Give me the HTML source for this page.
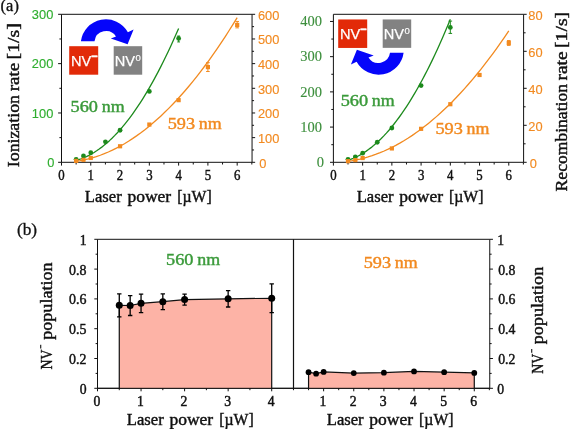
<!DOCTYPE html>
<html lang="en"><head><meta charset="utf-8"><title>Figure</title>
<style>html,body{margin:0;padding:0;background:#fff}svg{display:block;will-change:transform}text{white-space:pre}</style></head>
<body>
<svg width="571" height="429" viewBox="0 0 571 429">
<rect width="571" height="429" fill="#fff"/>
<path d="M61.50 14.30H252.05V162.30H61.50Z" fill="none" stroke="#111" stroke-width="1"/>
<line x1="61.50" y1="162.30" x2="61.50" y2="165.60" stroke="#111" stroke-width="1"/>
<line x1="76.14" y1="162.30" x2="76.14" y2="164.50" stroke="#111" stroke-width="1"/>
<line x1="90.78" y1="162.30" x2="90.78" y2="165.60" stroke="#111" stroke-width="1"/>
<line x1="105.42" y1="162.30" x2="105.42" y2="164.50" stroke="#111" stroke-width="1"/>
<line x1="120.06" y1="162.30" x2="120.06" y2="165.60" stroke="#111" stroke-width="1"/>
<line x1="134.70" y1="162.30" x2="134.70" y2="164.50" stroke="#111" stroke-width="1"/>
<line x1="149.34" y1="162.30" x2="149.34" y2="165.60" stroke="#111" stroke-width="1"/>
<line x1="163.98" y1="162.30" x2="163.98" y2="164.50" stroke="#111" stroke-width="1"/>
<line x1="178.62" y1="162.30" x2="178.62" y2="165.60" stroke="#111" stroke-width="1"/>
<line x1="193.26" y1="162.30" x2="193.26" y2="164.50" stroke="#111" stroke-width="1"/>
<line x1="207.90" y1="162.30" x2="207.90" y2="165.60" stroke="#111" stroke-width="1"/>
<line x1="222.54" y1="162.30" x2="222.54" y2="164.50" stroke="#111" stroke-width="1"/>
<line x1="237.18" y1="162.30" x2="237.18" y2="165.60" stroke="#111" stroke-width="1"/>
<line x1="251.82" y1="162.30" x2="251.82" y2="164.50" stroke="#111" stroke-width="1"/>
<text x="61.50" y="179.90" font-family='"Liberation Serif", serif' font-size="13.9" fill="#111" text-anchor="middle" textLength="6.40" lengthAdjust="spacingAndGlyphs" stroke="#111" stroke-width="0.42">0</text>
<text x="90.78" y="179.90" font-family='"Liberation Serif", serif' font-size="13.9" fill="#111" text-anchor="middle" textLength="6.40" lengthAdjust="spacingAndGlyphs" stroke="#111" stroke-width="0.42">1</text>
<text x="120.06" y="179.90" font-family='"Liberation Serif", serif' font-size="13.9" fill="#111" text-anchor="middle" textLength="6.40" lengthAdjust="spacingAndGlyphs" stroke="#111" stroke-width="0.42">2</text>
<text x="149.34" y="179.90" font-family='"Liberation Serif", serif' font-size="13.9" fill="#111" text-anchor="middle" textLength="6.40" lengthAdjust="spacingAndGlyphs" stroke="#111" stroke-width="0.42">3</text>
<text x="178.62" y="179.90" font-family='"Liberation Serif", serif' font-size="13.9" fill="#111" text-anchor="middle" textLength="6.40" lengthAdjust="spacingAndGlyphs" stroke="#111" stroke-width="0.42">4</text>
<text x="207.90" y="179.90" font-family='"Liberation Serif", serif' font-size="13.9" fill="#111" text-anchor="middle" textLength="6.40" lengthAdjust="spacingAndGlyphs" stroke="#111" stroke-width="0.42">5</text>
<text x="237.18" y="179.90" font-family='"Liberation Serif", serif' font-size="13.9" fill="#111" text-anchor="middle" textLength="6.40" lengthAdjust="spacingAndGlyphs" stroke="#111" stroke-width="0.42">6</text>
<line x1="58.10" y1="162.30" x2="61.50" y2="162.30" stroke="#111" stroke-width="1"/>
<text x="54.30" y="167.00" font-family='"Liberation Sans", sans-serif' font-size="13.3" fill="#2fae2f" text-anchor="end" textLength="7.15" lengthAdjust="spacingAndGlyphs" stroke="#2fae2f" stroke-width="0.12">0</text>
<line x1="58.10" y1="112.97" x2="61.50" y2="112.97" stroke="#111" stroke-width="1"/>
<text x="53.30" y="117.67" font-family='"Liberation Sans", sans-serif' font-size="13.3" fill="#2fae2f" text-anchor="end" textLength="21.45" lengthAdjust="spacingAndGlyphs" stroke="#2fae2f" stroke-width="0.12">100</text>
<line x1="58.10" y1="63.63" x2="61.50" y2="63.63" stroke="#111" stroke-width="1"/>
<text x="53.30" y="68.33" font-family='"Liberation Sans", sans-serif' font-size="13.3" fill="#2fae2f" text-anchor="end" textLength="21.45" lengthAdjust="spacingAndGlyphs" stroke="#2fae2f" stroke-width="0.12">200</text>
<line x1="58.10" y1="14.30" x2="61.50" y2="14.30" stroke="#111" stroke-width="1"/>
<text x="53.30" y="19.00" font-family='"Liberation Sans", sans-serif' font-size="13.3" fill="#2fae2f" text-anchor="end" textLength="21.45" lengthAdjust="spacingAndGlyphs" stroke="#2fae2f" stroke-width="0.12">300</text>
<line x1="59.40" y1="137.63" x2="61.50" y2="137.63" stroke="#111" stroke-width="1"/>
<line x1="59.40" y1="88.30" x2="61.50" y2="88.30" stroke="#111" stroke-width="1"/>
<line x1="59.40" y1="38.97" x2="61.50" y2="38.97" stroke="#111" stroke-width="1"/>
<line x1="252.05" y1="162.30" x2="255.15" y2="162.30" stroke="#111" stroke-width="1"/>
<text x="259.35" y="167.50" font-family='"Liberation Sans", sans-serif' font-size="13.3" fill="#f28a20" text-anchor="start" textLength="7.15" lengthAdjust="spacingAndGlyphs" stroke="#f28a20" stroke-width="0.12">0</text>
<line x1="252.05" y1="137.63" x2="255.15" y2="137.63" stroke="#111" stroke-width="1"/>
<text x="257.95" y="142.83" font-family='"Liberation Sans", sans-serif' font-size="13.3" fill="#f28a20" text-anchor="start" textLength="21.45" lengthAdjust="spacingAndGlyphs" stroke="#f28a20" stroke-width="0.12">100</text>
<line x1="252.05" y1="112.97" x2="255.15" y2="112.97" stroke="#111" stroke-width="1"/>
<text x="257.95" y="118.17" font-family='"Liberation Sans", sans-serif' font-size="13.3" fill="#f28a20" text-anchor="start" textLength="21.45" lengthAdjust="spacingAndGlyphs" stroke="#f28a20" stroke-width="0.12">200</text>
<line x1="252.05" y1="88.30" x2="255.15" y2="88.30" stroke="#111" stroke-width="1"/>
<text x="257.95" y="93.50" font-family='"Liberation Sans", sans-serif' font-size="13.3" fill="#f28a20" text-anchor="start" textLength="21.45" lengthAdjust="spacingAndGlyphs" stroke="#f28a20" stroke-width="0.12">300</text>
<line x1="252.05" y1="63.63" x2="255.15" y2="63.63" stroke="#111" stroke-width="1"/>
<text x="257.95" y="68.83" font-family='"Liberation Sans", sans-serif' font-size="13.3" fill="#f28a20" text-anchor="start" textLength="21.45" lengthAdjust="spacingAndGlyphs" stroke="#f28a20" stroke-width="0.12">400</text>
<line x1="252.05" y1="38.97" x2="255.15" y2="38.97" stroke="#111" stroke-width="1"/>
<text x="257.95" y="44.17" font-family='"Liberation Sans", sans-serif' font-size="13.3" fill="#f28a20" text-anchor="start" textLength="21.45" lengthAdjust="spacingAndGlyphs" stroke="#f28a20" stroke-width="0.12">500</text>
<line x1="252.05" y1="14.30" x2="255.15" y2="14.30" stroke="#111" stroke-width="1"/>
<text x="257.95" y="19.50" font-family='"Liberation Sans", sans-serif' font-size="13.3" fill="#f28a20" text-anchor="start" textLength="21.45" lengthAdjust="spacingAndGlyphs" stroke="#f28a20" stroke-width="0.12">600</text>
<line x1="252.05" y1="149.97" x2="254.05" y2="149.97" stroke="#111" stroke-width="1"/>
<line x1="252.05" y1="125.30" x2="254.05" y2="125.30" stroke="#111" stroke-width="1"/>
<line x1="252.05" y1="100.63" x2="254.05" y2="100.63" stroke="#111" stroke-width="1"/>
<line x1="252.05" y1="75.97" x2="254.05" y2="75.97" stroke="#111" stroke-width="1"/>
<line x1="252.05" y1="51.30" x2="254.05" y2="51.30" stroke="#111" stroke-width="1"/>
<line x1="252.05" y1="26.63" x2="254.05" y2="26.63" stroke="#111" stroke-width="1"/>
<path d="M76.14 160.37 L78.70 159.62 L81.26 158.75 L83.83 157.75 L86.39 156.62 L88.95 155.36 L91.51 153.97 L94.07 152.46 L96.64 150.81 L99.20 149.04 L101.76 147.14 L104.32 145.10 L106.88 142.94 L109.45 140.65 L112.01 138.22 L114.57 135.66 L117.13 132.97 L119.69 130.15 L122.26 127.20 L124.82 124.11 L127.38 120.89 L129.94 117.54 L132.50 114.06 L135.07 110.44 L137.63 106.69 L140.19 102.80 L142.75 98.79 L145.31 94.63 L147.88 90.35 L150.44 85.93 L153.00 81.37 L155.56 76.68 L158.12 71.86 L160.69 66.90 L163.25 61.80 L165.81 56.57 L168.37 51.21 L170.93 45.70 L173.50 40.07 L176.06 34.30 L178.62 28.39" fill="none" stroke="#1c8a1c" stroke-width="1.3" stroke-linejoin="round"/>
<path d="M76.14 161.29 L80.17 160.67 L84.19 159.89 L88.22 158.95 L92.24 157.87 L96.27 156.63 L100.30 155.24 L104.32 153.70 L108.35 152.01 L112.37 150.16 L116.40 148.16 L120.43 146.02 L124.45 143.71 L128.48 141.26 L132.50 138.66 L136.53 135.90 L140.56 132.99 L144.58 129.93 L148.61 126.71 L152.63 123.35 L156.66 119.83 L160.69 116.16 L164.71 112.34 L168.74 108.37 L172.76 104.24 L176.79 99.96 L180.82 95.53 L184.84 90.95 L188.87 86.22 L192.89 81.33 L196.92 76.30 L200.95 71.11 L204.97 65.76 L209.00 60.27 L213.02 54.62 L217.05 48.83 L221.08 42.88 L225.10 36.77 L229.13 30.52 L233.15 24.11 L237.18 17.56" fill="none" stroke="#f28a20" stroke-width="1.3" stroke-linejoin="round"/>
<circle cx="76.14" cy="159.34" r="2.4" fill="#1c8a1c"/>
<circle cx="83.46" cy="155.99" r="2.4" fill="#1c8a1c"/>
<circle cx="90.78" cy="152.73" r="2.4" fill="#1c8a1c"/>
<circle cx="105.42" cy="141.78" r="2.4" fill="#1c8a1c"/>
<circle cx="120.06" cy="130.23" r="2.4" fill="#1c8a1c"/>
<circle cx="149.34" cy="91.41" r="2.4" fill="#1c8a1c"/>
<circle cx="178.62" cy="38.47" r="2.4" fill="#1c8a1c"/>
<path d="M178.62 36.01V41.93M177.22 36.01h2.8M177.22 41.93h2.8" fill="none" stroke="#1c8a1c" stroke-width="1"/>
<rect x="74.04" y="158.79" width="4.2" height="4.2" fill="#f28a20"/>
<rect x="81.36" y="157.73" width="4.2" height="4.2" fill="#f28a20"/>
<rect x="88.68" y="155.86" width="4.2" height="4.2" fill="#f28a20"/>
<rect x="117.96" y="144.17" width="4.2" height="4.2" fill="#f28a20"/>
<rect x="147.24" y="122.46" width="4.2" height="4.2" fill="#f28a20"/>
<rect x="176.52" y="98.04" width="4.2" height="4.2" fill="#f28a20"/>
<rect x="205.80" y="64.99" width="4.2" height="4.2" fill="#f28a20"/>
<rect x="235.08" y="22.81" width="4.2" height="4.2" fill="#f28a20"/>
<path d="M207.90 62.65V71.53M206.10 62.65h3.6M206.10 71.53h3.6" fill="none" stroke="#f28a20" stroke-width="1"/>
<path d="M237.18 21.45V27.87M235.38 21.45h3.6M235.38 27.87h3.6" fill="none" stroke="#f28a20" stroke-width="1"/>
<text x="70.63" y="111.60" font-family='"Liberation Serif", serif' font-size="16.3" fill="#3a9a3a" text-anchor="start" textLength="27.37" lengthAdjust="spacingAndGlyphs" stroke="#3a9a3a" stroke-width="0.42">560</text>
<text x="101.77" y="111.60" font-family='"Liberation Serif", serif' font-size="16.3" fill="#3a9a3a" text-anchor="start" textLength="22.89" lengthAdjust="spacingAndGlyphs" stroke="#3a9a3a" stroke-width="0.42">nm</text>
<text x="167.73" y="129.30" font-family='"Liberation Serif", serif' font-size="16.3" fill="#f28a20" text-anchor="start" textLength="27.37" lengthAdjust="spacingAndGlyphs" stroke="#f28a20" stroke-width="0.42">593</text>
<text x="198.87" y="129.30" font-family='"Liberation Serif", serif' font-size="16.3" fill="#f28a20" text-anchor="start" textLength="22.89" lengthAdjust="spacingAndGlyphs" stroke="#f28a20" stroke-width="0.42">nm</text>
<text x="84.89" y="202.10" font-family='"Liberation Serif", serif' font-size="16.3" fill="#111" text-anchor="start" textLength="36.82" lengthAdjust="spacingAndGlyphs" stroke="#111" stroke-width="0.42">Laser</text>
<text x="127.45" y="202.10" font-family='"Liberation Serif", serif' font-size="16.3" fill="#111" text-anchor="start" textLength="43.72" lengthAdjust="spacingAndGlyphs" stroke="#111" stroke-width="0.42">power</text>
<text x="177.20" y="202.10" font-family='"Liberation Serif", serif' font-size="16.3" fill="#111" text-anchor="start" textLength="34.47" lengthAdjust="spacingAndGlyphs" stroke="#111" stroke-width="0.42">[µW]</text>
<text transform="translate(19.40 167.15) rotate(-90)" font-family='"Liberation Serif", serif' font-size="16.3" fill="#111" text-anchor="start" textLength="72.06" lengthAdjust="spacingAndGlyphs" stroke="#111" stroke-width="0.42">Ionization</text>
<text transform="translate(19.40 91.31) rotate(-90)" font-family='"Liberation Serif", serif' font-size="16.3" fill="#111" text-anchor="start" textLength="28.43" lengthAdjust="spacingAndGlyphs" stroke="#111" stroke-width="0.42">rate</text>
<text transform="translate(19.40 59.38) rotate(-90)" font-family='"Liberation Serif", serif' font-size="16.3" fill="#111" text-anchor="start" textLength="36.29" lengthAdjust="spacingAndGlyphs" stroke="#111" stroke-width="0.42">[1/s]</text>
<text x="0.60" y="11.40" font-family='"Liberation Serif", serif' font-size="16.6" fill="#111" text-anchor="start" textLength="18.30" lengthAdjust="spacingAndGlyphs" stroke="#111" stroke-width="0.3">(a)</text>
<rect x="69.20" y="46.20" width="29.00" height="28.50" fill="#e22a08"/>
<text x="71.00" y="65.80" font-family='"Liberation Sans", sans-serif' font-size="15.3" fill="#fff" stroke="#fff" stroke-width="0.25" textLength="20.3" lengthAdjust="spacingAndGlyphs">NV</text>
<text x="91.20" y="59.50" font-family='"Liberation Sans", sans-serif' font-size="11" font-weight="bold" fill="#fff" stroke="#fff" stroke-width="0.45">−</text>
<rect x="113.70" y="46.20" width="28.50" height="28.50" fill="#828282"/>
<text x="114.70" y="65.80" font-family='"Liberation Sans", sans-serif' font-size="15.3" fill="#fff" stroke="#fff" stroke-width="0.25" textLength="20.3" lengthAdjust="spacingAndGlyphs">NV</text>
<text x="135.60" y="60.60" font-family='"Liberation Sans", sans-serif' font-size="9.6" fill="#fff" stroke="#fff" stroke-width="0.15">0</text>
<path d="M80.9 41.2A25.2 25.2 0 0 1 127.9 32.2L133.6 29.4L127.6 44.2L110.8 38.6L116 36.5A11.7 11.7 0 0 0 94.5 41.2Z" fill="#0505fa"/>
<path d="M333.40 14.30H523.60V162.30H333.40Z" fill="none" stroke="#111" stroke-width="1"/>
<line x1="333.40" y1="162.30" x2="333.40" y2="165.60" stroke="#111" stroke-width="1"/>
<line x1="348.01" y1="162.30" x2="348.01" y2="164.50" stroke="#111" stroke-width="1"/>
<line x1="362.63" y1="162.30" x2="362.63" y2="165.60" stroke="#111" stroke-width="1"/>
<line x1="377.25" y1="162.30" x2="377.25" y2="164.50" stroke="#111" stroke-width="1"/>
<line x1="391.86" y1="162.30" x2="391.86" y2="165.60" stroke="#111" stroke-width="1"/>
<line x1="406.47" y1="162.30" x2="406.47" y2="164.50" stroke="#111" stroke-width="1"/>
<line x1="421.09" y1="162.30" x2="421.09" y2="165.60" stroke="#111" stroke-width="1"/>
<line x1="435.70" y1="162.30" x2="435.70" y2="164.50" stroke="#111" stroke-width="1"/>
<line x1="450.32" y1="162.30" x2="450.32" y2="165.60" stroke="#111" stroke-width="1"/>
<line x1="464.93" y1="162.30" x2="464.93" y2="164.50" stroke="#111" stroke-width="1"/>
<line x1="479.55" y1="162.30" x2="479.55" y2="165.60" stroke="#111" stroke-width="1"/>
<line x1="494.16" y1="162.30" x2="494.16" y2="164.50" stroke="#111" stroke-width="1"/>
<line x1="508.78" y1="162.30" x2="508.78" y2="165.60" stroke="#111" stroke-width="1"/>
<line x1="523.39" y1="162.30" x2="523.39" y2="164.50" stroke="#111" stroke-width="1"/>
<text x="333.40" y="179.90" font-family='"Liberation Serif", serif' font-size="13.9" fill="#111" text-anchor="middle" textLength="6.40" lengthAdjust="spacingAndGlyphs" stroke="#111" stroke-width="0.42">0</text>
<text x="362.63" y="179.90" font-family='"Liberation Serif", serif' font-size="13.9" fill="#111" text-anchor="middle" textLength="6.40" lengthAdjust="spacingAndGlyphs" stroke="#111" stroke-width="0.42">1</text>
<text x="391.86" y="179.90" font-family='"Liberation Serif", serif' font-size="13.9" fill="#111" text-anchor="middle" textLength="6.40" lengthAdjust="spacingAndGlyphs" stroke="#111" stroke-width="0.42">2</text>
<text x="421.09" y="179.90" font-family='"Liberation Serif", serif' font-size="13.9" fill="#111" text-anchor="middle" textLength="6.40" lengthAdjust="spacingAndGlyphs" stroke="#111" stroke-width="0.42">3</text>
<text x="450.32" y="179.90" font-family='"Liberation Serif", serif' font-size="13.9" fill="#111" text-anchor="middle" textLength="6.40" lengthAdjust="spacingAndGlyphs" stroke="#111" stroke-width="0.42">4</text>
<text x="479.55" y="179.90" font-family='"Liberation Serif", serif' font-size="13.9" fill="#111" text-anchor="middle" textLength="6.40" lengthAdjust="spacingAndGlyphs" stroke="#111" stroke-width="0.42">5</text>
<text x="508.78" y="179.90" font-family='"Liberation Serif", serif' font-size="13.9" fill="#111" text-anchor="middle" textLength="6.40" lengthAdjust="spacingAndGlyphs" stroke="#111" stroke-width="0.42">6</text>
<line x1="330.00" y1="162.30" x2="333.40" y2="162.30" stroke="#111" stroke-width="1"/>
<text x="324.10" y="167.10" font-family='"Liberation Serif", serif' font-size="14" fill="#3d8f3d" text-anchor="end" textLength="7.25" lengthAdjust="spacingAndGlyphs" stroke="#3d8f3d" stroke-width="0.12">0</text>
<line x1="330.00" y1="127.09" x2="333.40" y2="127.09" stroke="#111" stroke-width="1"/>
<text x="322.10" y="131.89" font-family='"Liberation Serif", serif' font-size="14" fill="#3d8f3d" text-anchor="end" textLength="21.75" lengthAdjust="spacingAndGlyphs" stroke="#3d8f3d" stroke-width="0.12">100</text>
<line x1="330.00" y1="91.88" x2="333.40" y2="91.88" stroke="#111" stroke-width="1"/>
<text x="322.10" y="96.67" font-family='"Liberation Serif", serif' font-size="14" fill="#3d8f3d" text-anchor="end" textLength="21.75" lengthAdjust="spacingAndGlyphs" stroke="#3d8f3d" stroke-width="0.12">200</text>
<line x1="330.00" y1="56.66" x2="333.40" y2="56.66" stroke="#111" stroke-width="1"/>
<text x="322.10" y="61.46" font-family='"Liberation Serif", serif' font-size="14" fill="#3d8f3d" text-anchor="end" textLength="21.75" lengthAdjust="spacingAndGlyphs" stroke="#3d8f3d" stroke-width="0.12">300</text>
<line x1="330.00" y1="21.45" x2="333.40" y2="21.45" stroke="#111" stroke-width="1"/>
<text x="322.10" y="26.25" font-family='"Liberation Serif", serif' font-size="14" fill="#3d8f3d" text-anchor="end" textLength="21.75" lengthAdjust="spacingAndGlyphs" stroke="#3d8f3d" stroke-width="0.12">400</text>
<line x1="331.30" y1="144.69" x2="333.40" y2="144.69" stroke="#111" stroke-width="1"/>
<line x1="331.30" y1="109.48" x2="333.40" y2="109.48" stroke="#111" stroke-width="1"/>
<line x1="331.30" y1="74.27" x2="333.40" y2="74.27" stroke="#111" stroke-width="1"/>
<line x1="331.30" y1="39.06" x2="333.40" y2="39.06" stroke="#111" stroke-width="1"/>
<line x1="523.60" y1="162.30" x2="526.70" y2="162.30" stroke="#111" stroke-width="1"/>
<text x="529.70" y="167.50" font-family='"Liberation Sans", sans-serif' font-size="13.3" fill="#f28a20" text-anchor="start" textLength="7.15" lengthAdjust="spacingAndGlyphs" stroke="#f28a20" stroke-width="0.12">0</text>
<line x1="523.60" y1="125.30" x2="526.70" y2="125.30" stroke="#111" stroke-width="1"/>
<text x="528.30" y="130.50" font-family='"Liberation Sans", sans-serif' font-size="13.3" fill="#f28a20" text-anchor="start" textLength="14.30" lengthAdjust="spacingAndGlyphs" stroke="#f28a20" stroke-width="0.12">20</text>
<line x1="523.60" y1="88.30" x2="526.70" y2="88.30" stroke="#111" stroke-width="1"/>
<text x="528.30" y="93.50" font-family='"Liberation Sans", sans-serif' font-size="13.3" fill="#f28a20" text-anchor="start" textLength="14.30" lengthAdjust="spacingAndGlyphs" stroke="#f28a20" stroke-width="0.12">40</text>
<line x1="523.60" y1="51.30" x2="526.70" y2="51.30" stroke="#111" stroke-width="1"/>
<text x="528.30" y="56.50" font-family='"Liberation Sans", sans-serif' font-size="13.3" fill="#f28a20" text-anchor="start" textLength="14.30" lengthAdjust="spacingAndGlyphs" stroke="#f28a20" stroke-width="0.12">60</text>
<line x1="523.60" y1="14.30" x2="526.70" y2="14.30" stroke="#111" stroke-width="1"/>
<text x="528.30" y="19.50" font-family='"Liberation Sans", sans-serif' font-size="13.3" fill="#f28a20" text-anchor="start" textLength="14.30" lengthAdjust="spacingAndGlyphs" stroke="#f28a20" stroke-width="0.12">80</text>
<line x1="523.60" y1="143.80" x2="525.60" y2="143.80" stroke="#111" stroke-width="1"/>
<line x1="523.60" y1="106.80" x2="525.60" y2="106.80" stroke="#111" stroke-width="1"/>
<line x1="523.60" y1="69.80" x2="525.60" y2="69.80" stroke="#111" stroke-width="1"/>
<line x1="523.60" y1="32.80" x2="525.60" y2="32.80" stroke="#111" stroke-width="1"/>
<path d="M348.01 160.14 L350.57 159.30 L353.13 158.33 L355.69 157.21 L358.25 155.96 L360.80 154.57 L363.36 153.05 L365.92 151.38 L368.48 149.58 L371.03 147.64 L373.59 145.57 L376.15 143.35 L378.71 141.00 L381.26 138.51 L383.82 135.89 L386.38 133.12 L388.94 130.22 L391.49 127.18 L394.05 124.00 L396.61 120.69 L399.17 117.24 L401.73 113.65 L404.28 109.92 L406.84 106.06 L409.40 102.06 L411.96 97.92 L414.51 93.64 L417.07 89.23 L419.63 84.68 L422.19 79.99 L424.74 75.16 L427.30 70.20 L429.86 65.10 L432.42 59.86 L434.97 54.48 L437.53 48.97 L440.09 43.32 L442.65 37.53 L445.20 31.60 L447.76 25.54 L450.32 19.34" fill="none" stroke="#1c8a1c" stroke-width="1.3" stroke-linejoin="round"/>
<path d="M348.01 161.28 L352.03 160.68 L356.05 159.95 L360.07 159.08 L364.09 158.07 L368.11 156.93 L372.13 155.65 L376.15 154.23 L380.17 152.68 L384.19 150.99 L388.21 149.17 L392.23 147.21 L396.24 145.11 L400.26 142.87 L404.28 140.50 L408.30 138.00 L412.32 135.35 L416.34 132.57 L420.36 129.66 L424.38 126.60 L428.40 123.41 L432.42 120.09 L436.44 116.63 L440.45 113.03 L444.47 109.29 L448.49 105.42 L452.51 101.42 L456.53 97.27 L460.55 92.99 L464.57 88.57 L468.59 84.02 L472.61 79.33 L476.63 74.51 L480.65 69.54 L484.67 64.44 L488.68 59.21 L492.70 53.84 L496.72 48.33 L500.74 42.69 L504.76 36.90 L508.78 30.99" fill="none" stroke="#f28a20" stroke-width="1.3" stroke-linejoin="round"/>
<circle cx="348.01" cy="159.31" r="2.4" fill="#1c8a1c"/>
<circle cx="355.32" cy="157.02" r="2.4" fill="#1c8a1c"/>
<circle cx="362.63" cy="153.14" r="2.4" fill="#1c8a1c"/>
<circle cx="377.25" cy="142.23" r="2.4" fill="#1c8a1c"/>
<circle cx="391.86" cy="128.00" r="2.4" fill="#1c8a1c"/>
<circle cx="421.09" cy="85.54" r="2.4" fill="#1c8a1c"/>
<circle cx="450.32" cy="27.44" r="2.4" fill="#1c8a1c"/>
<path d="M450.32 21.10V33.42M448.52 21.10h3.6M448.52 33.42h3.6" fill="none" stroke="#1c8a1c" stroke-width="1"/>
<rect x="345.91" y="159.09" width="4.2" height="4.2" fill="#f28a20"/>
<rect x="353.22" y="157.98" width="4.2" height="4.2" fill="#f28a20"/>
<rect x="360.53" y="155.95" width="4.2" height="4.2" fill="#f28a20"/>
<rect x="389.76" y="146.33" width="4.2" height="4.2" fill="#f28a20"/>
<rect x="418.99" y="126.72" width="4.2" height="4.2" fill="#f28a20"/>
<rect x="448.22" y="102.11" width="4.2" height="4.2" fill="#f28a20"/>
<rect x="477.45" y="72.88" width="4.2" height="4.2" fill="#f28a20"/>
<rect x="506.68" y="40.88" width="4.2" height="4.2" fill="#f28a20"/>
<path d="M508.78 40.57V45.38M506.98 40.57h3.6M506.98 45.38h3.6" fill="none" stroke="#f28a20" stroke-width="1"/>
<text x="340.73" y="105.50" font-family='"Liberation Serif", serif' font-size="16.3" fill="#3a9a3a" text-anchor="start" textLength="27.37" lengthAdjust="spacingAndGlyphs" stroke="#3a9a3a" stroke-width="0.42">560</text>
<text x="371.87" y="105.50" font-family='"Liberation Serif", serif' font-size="16.3" fill="#3a9a3a" text-anchor="start" textLength="22.89" lengthAdjust="spacingAndGlyphs" stroke="#3a9a3a" stroke-width="0.42">nm</text>
<text x="435.43" y="133.50" font-family='"Liberation Serif", serif' font-size="16.3" fill="#f28a20" text-anchor="start" textLength="27.37" lengthAdjust="spacingAndGlyphs" stroke="#f28a20" stroke-width="0.42">593</text>
<text x="466.57" y="133.50" font-family='"Liberation Serif", serif' font-size="16.3" fill="#f28a20" text-anchor="start" textLength="22.89" lengthAdjust="spacingAndGlyphs" stroke="#f28a20" stroke-width="0.42">nm</text>
<text x="356.69" y="202.10" font-family='"Liberation Serif", serif' font-size="16.3" fill="#111" text-anchor="start" textLength="36.82" lengthAdjust="spacingAndGlyphs" stroke="#111" stroke-width="0.42">Laser</text>
<text x="399.25" y="202.10" font-family='"Liberation Serif", serif' font-size="16.3" fill="#111" text-anchor="start" textLength="43.72" lengthAdjust="spacingAndGlyphs" stroke="#111" stroke-width="0.42">power</text>
<text x="449.00" y="202.10" font-family='"Liberation Serif", serif' font-size="16.3" fill="#111" text-anchor="start" textLength="34.47" lengthAdjust="spacingAndGlyphs" stroke="#111" stroke-width="0.42">[µW]</text>
<text transform="translate(567.00 191.38) rotate(-90)" font-family='"Liberation Serif", serif' font-size="16.3" fill="#111" text-anchor="start" textLength="107.37" lengthAdjust="spacingAndGlyphs" stroke="#111" stroke-width="0.42">Recombination</text>
<text transform="translate(567.00 80.41) rotate(-90)" font-family='"Liberation Serif", serif' font-size="16.3" fill="#111" text-anchor="start" textLength="28.93" lengthAdjust="spacingAndGlyphs" stroke="#111" stroke-width="0.42">rate</text>
<text transform="translate(567.00 47.98) rotate(-90)" font-family='"Liberation Serif", serif' font-size="16.3" fill="#111" text-anchor="start" textLength="36.09" lengthAdjust="spacingAndGlyphs" stroke="#111" stroke-width="0.42">[1/s]</text>
<rect x="338.20" y="19.45" width="29.00" height="28.50" fill="#e22a08"/>
<text x="340.00" y="39.05" font-family='"Liberation Sans", sans-serif' font-size="15.3" fill="#fff" stroke="#fff" stroke-width="0.25" textLength="20.3" lengthAdjust="spacingAndGlyphs">NV</text>
<text x="360.20" y="32.75" font-family='"Liberation Sans", sans-serif' font-size="11" font-weight="bold" fill="#fff" stroke="#fff" stroke-width="0.45">−</text>
<rect x="382.70" y="19.45" width="28.50" height="28.40" fill="#828282"/>
<text x="383.70" y="39.05" font-family='"Liberation Sans", sans-serif' font-size="15.3" fill="#fff" stroke="#fff" stroke-width="0.25" textLength="20.3" lengthAdjust="spacingAndGlyphs">NV</text>
<text x="404.60" y="33.85" font-family='"Liberation Sans", sans-serif' font-size="9.6" fill="#fff" stroke="#fff" stroke-width="0.15">0</text>
<path d="M80.9 41.2A25.2 25.2 0 0 1 127.9 32.2L133.6 29.4L127.6 44.2L110.8 38.6L116 36.5A11.7 11.7 0 0 0 94.5 41.2Z" fill="#0505fa" transform="rotate(180 242.25 47)"/>
<path d="M97.5 239.3H489.75V388.3H97.5Z" fill="none" stroke="#111" stroke-width="1"/>
<path d="M119.28 388.3L119.28 305.31 L130.16 305.52 L141.05 303.33 L162.82 301.69 L184.60 299.56 L228.15 298.83 L271.70 298.24L271.70 388.3Z" fill="#fdb3a6"/>
<path d="M119.28 388.3L119.28 305.31 L130.16 305.52 L141.05 303.33 L162.82 301.69 L184.60 299.56 L228.15 298.83 L271.70 298.24L271.70 388.3" fill="none" stroke="#111" stroke-width="1.2" stroke-linejoin="round"/>
<path d="M119.28 293.83V316.78M117.08 293.83h4.4M117.08 316.78h4.4" fill="none" stroke="#000" stroke-width="1.3"/>
<circle cx="119.28" cy="305.31" r="3.5" fill="#000"/>
<path d="M130.16 295.53V315.50M127.96 295.53h4.4M127.96 315.50h4.4" fill="none" stroke="#000" stroke-width="1.3"/>
<circle cx="130.16" cy="305.52" r="3.5" fill="#000"/>
<path d="M141.05 294.09V312.56M138.85 294.09h4.4M138.85 312.56h4.4" fill="none" stroke="#000" stroke-width="1.3"/>
<circle cx="141.05" cy="303.33" r="3.5" fill="#000"/>
<path d="M162.82 293.79V309.58M160.62 293.79h4.4M160.62 309.58h4.4" fill="none" stroke="#000" stroke-width="1.3"/>
<circle cx="162.82" cy="301.69" r="3.5" fill="#000"/>
<path d="M184.60 294.04V305.07M182.40 294.04h4.4M182.40 305.07h4.4" fill="none" stroke="#000" stroke-width="1.3"/>
<circle cx="184.60" cy="299.56" r="3.5" fill="#000"/>
<path d="M228.15 290.63V307.02M225.95 290.63h4.4M225.95 307.02h4.4" fill="none" stroke="#000" stroke-width="1.3"/>
<circle cx="228.15" cy="298.83" r="3.5" fill="#000"/>
<path d="M271.70 283.85V312.64M269.50 283.85h4.4M269.50 312.64h4.4" fill="none" stroke="#000" stroke-width="1.3"/>
<circle cx="271.70" cy="298.24" r="3.5" fill="#000"/>
<path d="M308.56 388.3L308.56 372.21 L316.10 373.70 L323.63 371.91 L353.76 373.10 L383.89 372.66 L414.02 371.46 L444.15 372.21 L474.28 372.95L474.28 388.3Z" fill="#fdb3a6"/>
<path d="M308.56 388.3L308.56 372.21 L316.10 373.70 L323.63 371.91 L353.76 373.10 L383.89 372.66 L414.02 371.46 L444.15 372.21 L474.28 372.95L474.28 388.3" fill="none" stroke="#111" stroke-width="1.2" stroke-linejoin="round"/>
<circle cx="308.56" cy="372.21" r="2.9" fill="#000"/>
<circle cx="316.10" cy="373.70" r="2.9" fill="#000"/>
<circle cx="323.63" cy="371.91" r="2.9" fill="#000"/>
<circle cx="353.76" cy="373.10" r="2.9" fill="#000"/>
<circle cx="383.89" cy="372.66" r="2.9" fill="#000"/>
<circle cx="414.02" cy="371.46" r="2.9" fill="#000"/>
<circle cx="444.15" cy="372.21" r="2.9" fill="#000"/>
<circle cx="474.28" cy="372.95" r="2.9" fill="#000"/>
<line x1="293.50" y1="239.30" x2="293.50" y2="388.30" stroke="#111" stroke-width="1.2"/>
<path d="M97.5 388.3H489.75" fill="none" stroke="#111" stroke-width="1"/>
<line x1="94.30" y1="388.30" x2="97.50" y2="388.30" stroke="#111" stroke-width="1"/>
<line x1="489.75" y1="388.30" x2="492.95" y2="388.30" stroke="#111" stroke-width="1"/>
<text x="86.50" y="393.70" font-family='"Liberation Serif", serif' font-size="13.7" fill="#111" text-anchor="end" stroke="#111" stroke-width="0.42">0</text>
<text x="497.30" y="393.80" font-family='"Liberation Serif", serif' font-size="13.7" fill="#111" text-anchor="start" stroke="#111" stroke-width="0.42">0</text>
<line x1="95.60" y1="373.40" x2="97.50" y2="373.40" stroke="#111" stroke-width="1"/>
<line x1="489.75" y1="373.40" x2="491.65" y2="373.40" stroke="#111" stroke-width="1"/>
<line x1="94.30" y1="358.50" x2="97.50" y2="358.50" stroke="#111" stroke-width="1"/>
<line x1="489.75" y1="358.50" x2="492.95" y2="358.50" stroke="#111" stroke-width="1"/>
<text x="86.50" y="363.90" font-family='"Liberation Serif", serif' font-size="13.7" fill="#111" text-anchor="end" textLength="17.40" lengthAdjust="spacingAndGlyphs" stroke="#111" stroke-width="0.42">0.2</text>
<text x="498.20" y="364.00" font-family='"Liberation Serif", serif' font-size="13.7" fill="#111" text-anchor="start" textLength="17.20" lengthAdjust="spacingAndGlyphs" stroke="#111" stroke-width="0.42">0.2</text>
<line x1="95.60" y1="343.60" x2="97.50" y2="343.60" stroke="#111" stroke-width="1"/>
<line x1="489.75" y1="343.60" x2="491.65" y2="343.60" stroke="#111" stroke-width="1"/>
<line x1="94.30" y1="328.70" x2="97.50" y2="328.70" stroke="#111" stroke-width="1"/>
<line x1="489.75" y1="328.70" x2="492.95" y2="328.70" stroke="#111" stroke-width="1"/>
<text x="86.50" y="334.10" font-family='"Liberation Serif", serif' font-size="13.7" fill="#111" text-anchor="end" textLength="17.40" lengthAdjust="spacingAndGlyphs" stroke="#111" stroke-width="0.42">0.5</text>
<text x="498.20" y="334.20" font-family='"Liberation Serif", serif' font-size="13.7" fill="#111" text-anchor="start" textLength="17.20" lengthAdjust="spacingAndGlyphs" stroke="#111" stroke-width="0.42">0.4</text>
<line x1="95.60" y1="313.80" x2="97.50" y2="313.80" stroke="#111" stroke-width="1"/>
<line x1="489.75" y1="313.80" x2="491.65" y2="313.80" stroke="#111" stroke-width="1"/>
<line x1="94.30" y1="298.90" x2="97.50" y2="298.90" stroke="#111" stroke-width="1"/>
<line x1="489.75" y1="298.90" x2="492.95" y2="298.90" stroke="#111" stroke-width="1"/>
<text x="86.50" y="304.30" font-family='"Liberation Serif", serif' font-size="13.7" fill="#111" text-anchor="end" textLength="17.40" lengthAdjust="spacingAndGlyphs" stroke="#111" stroke-width="0.42">0.6</text>
<text x="498.20" y="304.40" font-family='"Liberation Serif", serif' font-size="13.7" fill="#111" text-anchor="start" textLength="17.20" lengthAdjust="spacingAndGlyphs" stroke="#111" stroke-width="0.42">0.6</text>
<line x1="95.60" y1="284.00" x2="97.50" y2="284.00" stroke="#111" stroke-width="1"/>
<line x1="489.75" y1="284.00" x2="491.65" y2="284.00" stroke="#111" stroke-width="1"/>
<line x1="94.30" y1="269.10" x2="97.50" y2="269.10" stroke="#111" stroke-width="1"/>
<line x1="489.75" y1="269.10" x2="492.95" y2="269.10" stroke="#111" stroke-width="1"/>
<text x="86.50" y="274.50" font-family='"Liberation Serif", serif' font-size="13.7" fill="#111" text-anchor="end" textLength="17.40" lengthAdjust="spacingAndGlyphs" stroke="#111" stroke-width="0.42">0.8</text>
<text x="498.20" y="274.60" font-family='"Liberation Serif", serif' font-size="13.7" fill="#111" text-anchor="start" textLength="17.20" lengthAdjust="spacingAndGlyphs" stroke="#111" stroke-width="0.42">0.8</text>
<line x1="95.60" y1="254.20" x2="97.50" y2="254.20" stroke="#111" stroke-width="1"/>
<line x1="489.75" y1="254.20" x2="491.65" y2="254.20" stroke="#111" stroke-width="1"/>
<line x1="94.30" y1="239.30" x2="97.50" y2="239.30" stroke="#111" stroke-width="1"/>
<line x1="489.75" y1="239.30" x2="492.95" y2="239.30" stroke="#111" stroke-width="1"/>
<text x="86.50" y="244.70" font-family='"Liberation Serif", serif' font-size="13.7" fill="#111" text-anchor="end" stroke="#111" stroke-width="0.42">1</text>
<text x="497.30" y="244.80" font-family='"Liberation Serif", serif' font-size="13.7" fill="#111" text-anchor="start" stroke="#111" stroke-width="0.42">1</text>
<line x1="97.50" y1="388.30" x2="97.50" y2="391.30" stroke="#111" stroke-width="1"/>
<text x="96.90" y="405.60" font-family='"Liberation Serif", serif' font-size="13.7" fill="#111" text-anchor="middle" stroke="#111" stroke-width="0.45">0</text>
<line x1="119.28" y1="388.30" x2="119.28" y2="390.20" stroke="#111" stroke-width="1"/>
<line x1="141.05" y1="388.30" x2="141.05" y2="391.30" stroke="#111" stroke-width="1"/>
<text x="140.45" y="405.60" font-family='"Liberation Serif", serif' font-size="13.7" fill="#111" text-anchor="middle" stroke="#111" stroke-width="0.45">1</text>
<line x1="162.82" y1="388.30" x2="162.82" y2="390.20" stroke="#111" stroke-width="1"/>
<line x1="184.60" y1="388.30" x2="184.60" y2="391.30" stroke="#111" stroke-width="1"/>
<text x="184.00" y="405.60" font-family='"Liberation Serif", serif' font-size="13.7" fill="#111" text-anchor="middle" stroke="#111" stroke-width="0.45">2</text>
<line x1="206.38" y1="388.30" x2="206.38" y2="390.20" stroke="#111" stroke-width="1"/>
<line x1="228.15" y1="388.30" x2="228.15" y2="391.30" stroke="#111" stroke-width="1"/>
<text x="227.55" y="405.60" font-family='"Liberation Serif", serif' font-size="13.7" fill="#111" text-anchor="middle" stroke="#111" stroke-width="0.45">3</text>
<line x1="249.92" y1="388.30" x2="249.92" y2="390.20" stroke="#111" stroke-width="1"/>
<line x1="271.70" y1="388.30" x2="271.70" y2="391.30" stroke="#111" stroke-width="1"/>
<text x="271.10" y="405.60" font-family='"Liberation Serif", serif' font-size="13.7" fill="#111" text-anchor="middle" stroke="#111" stroke-width="0.45">4</text>
<line x1="293.48" y1="388.30" x2="293.48" y2="390.20" stroke="#111" stroke-width="1"/>
<line x1="308.56" y1="388.30" x2="308.56" y2="390.20" stroke="#111" stroke-width="1"/>
<line x1="323.63" y1="388.30" x2="323.63" y2="391.30" stroke="#111" stroke-width="1"/>
<text x="323.03" y="405.60" font-family='"Liberation Serif", serif' font-size="13.7" fill="#111" text-anchor="middle" stroke="#111" stroke-width="0.45">1</text>
<line x1="338.69" y1="388.30" x2="338.69" y2="390.20" stroke="#111" stroke-width="1"/>
<line x1="353.76" y1="388.30" x2="353.76" y2="391.30" stroke="#111" stroke-width="1"/>
<text x="353.16" y="405.60" font-family='"Liberation Serif", serif' font-size="13.7" fill="#111" text-anchor="middle" stroke="#111" stroke-width="0.45">2</text>
<line x1="368.82" y1="388.30" x2="368.82" y2="390.20" stroke="#111" stroke-width="1"/>
<line x1="383.89" y1="388.30" x2="383.89" y2="391.30" stroke="#111" stroke-width="1"/>
<text x="383.29" y="405.60" font-family='"Liberation Serif", serif' font-size="13.7" fill="#111" text-anchor="middle" stroke="#111" stroke-width="0.45">3</text>
<line x1="398.95" y1="388.30" x2="398.95" y2="390.20" stroke="#111" stroke-width="1"/>
<line x1="414.02" y1="388.30" x2="414.02" y2="391.30" stroke="#111" stroke-width="1"/>
<text x="413.42" y="405.60" font-family='"Liberation Serif", serif' font-size="13.7" fill="#111" text-anchor="middle" stroke="#111" stroke-width="0.45">4</text>
<line x1="429.09" y1="388.30" x2="429.09" y2="390.20" stroke="#111" stroke-width="1"/>
<line x1="444.15" y1="388.30" x2="444.15" y2="391.30" stroke="#111" stroke-width="1"/>
<text x="443.55" y="405.60" font-family='"Liberation Serif", serif' font-size="13.7" fill="#111" text-anchor="middle" stroke="#111" stroke-width="0.45">5</text>
<line x1="459.22" y1="388.30" x2="459.22" y2="390.20" stroke="#111" stroke-width="1"/>
<line x1="474.28" y1="388.30" x2="474.28" y2="391.30" stroke="#111" stroke-width="1"/>
<text x="473.68" y="405.60" font-family='"Liberation Serif", serif' font-size="13.7" fill="#111" text-anchor="middle" stroke="#111" stroke-width="0.45">6</text>
<line x1="489.35" y1="388.30" x2="489.35" y2="390.20" stroke="#111" stroke-width="1"/>
<text x="166.13" y="264.90" font-family='"Liberation Serif", serif' font-size="16.3" fill="#3a9a3a" text-anchor="start" textLength="27.37" lengthAdjust="spacingAndGlyphs" stroke="#3a9a3a" stroke-width="0.42">560</text>
<text x="197.27" y="264.90" font-family='"Liberation Serif", serif' font-size="16.3" fill="#3a9a3a" text-anchor="start" textLength="22.89" lengthAdjust="spacingAndGlyphs" stroke="#3a9a3a" stroke-width="0.42">nm</text>
<text x="363.73" y="267.70" font-family='"Liberation Serif", serif' font-size="16.3" fill="#f28a20" text-anchor="start" textLength="27.37" lengthAdjust="spacingAndGlyphs" stroke="#f28a20" stroke-width="0.42">593</text>
<text x="394.87" y="267.70" font-family='"Liberation Serif", serif' font-size="16.3" fill="#f28a20" text-anchor="start" textLength="22.89" lengthAdjust="spacingAndGlyphs" stroke="#f28a20" stroke-width="0.42">nm</text>
<text x="126.89" y="425.20" font-family='"Liberation Serif", serif' font-size="16.3" fill="#111" text-anchor="start" textLength="36.82" lengthAdjust="spacingAndGlyphs" stroke="#111" stroke-width="0.42">Laser</text>
<text x="169.45" y="425.20" font-family='"Liberation Serif", serif' font-size="16.3" fill="#111" text-anchor="start" textLength="43.72" lengthAdjust="spacingAndGlyphs" stroke="#111" stroke-width="0.42">power</text>
<text x="219.20" y="425.20" font-family='"Liberation Serif", serif' font-size="16.3" fill="#111" text-anchor="start" textLength="34.47" lengthAdjust="spacingAndGlyphs" stroke="#111" stroke-width="0.42">[µW]</text>
<text x="326.79" y="424.60" font-family='"Liberation Serif", serif' font-size="16.3" fill="#111" text-anchor="start" textLength="36.82" lengthAdjust="spacingAndGlyphs" stroke="#111" stroke-width="0.42">Laser</text>
<text x="369.35" y="424.60" font-family='"Liberation Serif", serif' font-size="16.3" fill="#111" text-anchor="start" textLength="43.72" lengthAdjust="spacingAndGlyphs" stroke="#111" stroke-width="0.42">power</text>
<text x="419.10" y="424.60" font-family='"Liberation Serif", serif' font-size="16.3" fill="#111" text-anchor="start" textLength="34.47" lengthAdjust="spacingAndGlyphs" stroke="#111" stroke-width="0.42">[µW]</text>
<text x="16.90" y="234.60" font-family='"Liberation Serif", serif' font-size="16.6" fill="#111" text-anchor="start" textLength="20.20" lengthAdjust="spacingAndGlyphs" stroke="#111" stroke-width="0.3">(b)</text>
<text transform="translate(52.20 369.40) rotate(-90)" font-family='"Liberation Serif", serif' font-size="16.3" fill="#111" text-anchor="start" textLength="19.88" lengthAdjust="spacingAndGlyphs" stroke="#111" stroke-width="0.42">NV</text>
<text transform="translate(52.20 339.81) rotate(-90)" font-family='"Liberation Serif", serif' font-size="16.3" fill="#111" text-anchor="start" textLength="77.42" lengthAdjust="spacingAndGlyphs" stroke="#111" stroke-width="0.42">population</text>
<text transform="translate(43.30 348.20) rotate(-90)" font-family='"Liberation Serif", serif' font-size="6.5" fill="#111" text-anchor="start" font-weight="bold" stroke="#111" stroke-width="0.55">−</text>
<text transform="translate(543.20 373.80) rotate(-90)" font-family='"Liberation Serif", serif' font-size="16.3" fill="#111" text-anchor="start" textLength="19.88" lengthAdjust="spacingAndGlyphs" stroke="#111" stroke-width="0.42">NV</text>
<text transform="translate(543.20 344.21) rotate(-90)" font-family='"Liberation Serif", serif' font-size="16.3" fill="#111" text-anchor="start" textLength="77.42" lengthAdjust="spacingAndGlyphs" stroke="#111" stroke-width="0.42">population</text>
<text transform="translate(534.30 352.60) rotate(-90)" font-family='"Liberation Serif", serif' font-size="6.5" fill="#111" text-anchor="start" font-weight="bold" stroke="#111" stroke-width="0.55">−</text>
</svg>
</body></html>
